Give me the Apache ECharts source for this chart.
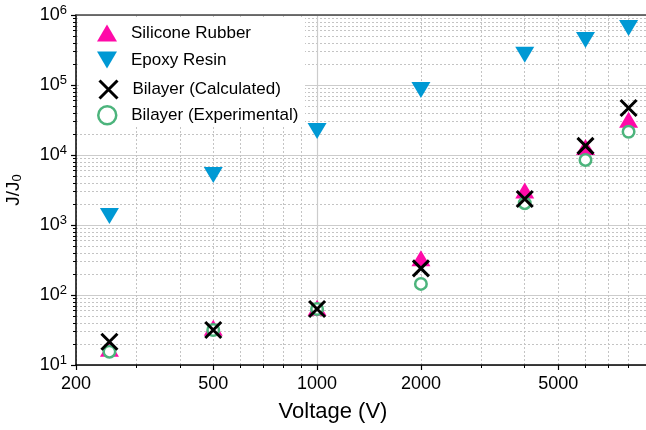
<!DOCTYPE html>
<html>
<head>
<meta charset="utf-8">
<script src="https://cdn.jsdelivr.net/npm/echarts@6/dist/echarts.min.js"></script>
<style>html,body{margin:0;padding:0;background:#fff}#c{width:646px;height:430px}</style>
</head>
<body>
<div id="c"></div>
<script>
// ---- data ----
const voltage = [250, 500, 1000, 2000, 4000, 6000, 8000];
const siliconeRubber = [17, 34, 66, 335, 3100, 13000, 32000];
const epoxyResin = [1350, 5200, 22000, 85000, 270000, 440000, 650000];
const bilayerCalculated = [21.5, 31.6, 63, 240, 2350, 13500, 47000];
const bilayerExperimental = [15.5, 31.6, 63, 144, 2050, 8500, 21500];
const xTickLabels = [200, 500, 1000, 2000, 5000];
const xMinorTicks = [300, 400, 600, 700, 800, 900, 3000, 4000, 6000, 7000, 8000, 9000];
const xSolidGrid = [1000];
const yMajorTicks = [10, 100, 1000, 10000, 100000, 1000000];
const yMinorMultipliers = [2, 3, 4, 5, 6, 7, 8, 9];
const seriesNames = ['Silicone Rubber', 'Epoxy Resin', 'Bilayer (Calculated)', 'Bilayer (Experimental)'];

const FONT = 'Liberation Sans, Arial, sans-serif';
const lg = Math.log10;
const pts = (ys) => voltage.map((x, i) => [x, ys[i]]);
const yMinor = [];
yMajorTicks.slice(0, -1).forEach(d => yMinorMultipliers.forEach(m => yMinor.push(lg(d * m))));

const xMin = 200, xMax = 10000, yMin = 10, yMax = 1000000;
const dotted = { show: true, lineStyle: { color: '#c4c4c4', width: 1, type: [2, 2] } };
const solid = { show: true, lineStyle: { color: '#cccccc', width: 1.2, type: 'solid' } };

const PINK = '#ff0aa8', BLUE = '#0099d4', GREEN = '#4cb47c';
const legendIcons = [
  { icon: 'path://M10,0L20,17L0,17Z', itemStyle: { color: PINK } },
  { icon: 'path://M0,0L20,0L10,17Z', itemStyle: { color: BLUE } },
  { icon: 'path://M0,0L10,10M0,10L10,0', itemStyle: { color: 'none', borderColor: '#000', borderWidth: 3 } },
  { icon: 'circle', itemStyle: { color: '#fff', borderColor: GREEN, borderWidth: 2.5 } }
];
const legendRowTop = [24, 51, 78, 105];

const legends = seriesNames.map((n, i) => ({
  orient: 'vertical', left: 97, top: legendRowTop[i], padding: 0,
  itemWidth: 20, itemHeight: 18, symbolKeepAspect: true,
  textStyle: { fontFamily: FONT, fontSize: 17, color: '#000', lineHeight: 18, padding: [0, 0, 0, 9] },
  data: [Object.assign({ name: n }, legendIcons[i])]
}));

const chart = echarts.init(document.getElementById('c'), null, { renderer: 'canvas' });
chart.setOption({
  animation: false,
  backgroundColor: '#fff',
  grid: { left: 76, top: 15, bottom: 65, right: -16, containLabel: false, outerBoundsMode: 'none' },
  graphic: [{
    type: 'rect', left: 79, top: 17, z: 3, silent: true,
    shape: { width: 226, height: 108 }, style: { fill: '#fff' }
  }],
  xAxis: [
    { type: 'log', min: xMin, max: xMax, show: false, position: 'bottom' },
    {
      type: 'value', min: lg(xMin), max: lg(xMax), position: 'bottom',
      axisLine: { show: true, onZero: false, lineStyle: { color: '#000', width: 1.5 } },
      axisTick: { show: true, length: 5, customValues: xTickLabels.map(lg), lineStyle: { color: '#000', width: 1.2 } },
      axisLabel: {
        show: true, customValues: xTickLabels.map(lg), margin: 10,
        formatter: v => String(Math.round(Math.pow(10, v))),
        fontFamily: FONT, fontSize: 18, color: '#000'
      },
      splitLine: dotted,
      name: 'Voltage (V)', nameLocation: 'middle', nameGap: 36,
      nameTextStyle: { fontFamily: FONT, fontSize: 22, color: '#000', padding: [0, 72, 0, 0] }
    },
    {
      type: 'value', min: lg(xMin), max: lg(xMax), position: 'bottom',
      axisLine: { show: false, onZero: false },
      axisTick: { show: true, length: 3, customValues: xMinorTicks.map(lg), lineStyle: { color: '#000', width: 1 } },
      axisLabel: { show: false },
      splitLine: dotted
    },
    {
      type: 'value', min: lg(xMin), max: lg(xMax), position: 'top',
      axisLine: { show: true, onZero: false, lineStyle: { color: '#444', width: 1.5 } },
      axisTick: { show: false, customValues: xSolidGrid.map(lg) },
      axisLabel: { show: false },
      splitLine: solid
    }
  ],
  yAxis: [
    {
      type: 'log', min: yMin, max: yMax, interval: 1, position: 'left',
      axisLine: { show: true, onZero: false, lineStyle: { color: '#000', width: 1.5 } },
      axisTick: { show: true, length: 5, lineStyle: { color: '#000', width: 1.2 } },
      axisLabel: {
        margin: 9, fontFamily: FONT, color: '#000',
        formatter: v => '{b|10}{s|' + Math.round(lg(v)) + '}',
        rich: {
          b: { fontFamily: FONT, fontSize: 18, color: '#000' },
          s: { fontFamily: FONT, fontSize: 13, color: '#000', padding: [0, 0, 10, 0] }
        }
      },
      splitLine: solid,
      name: '{a|J/J}{s|0}', nameLocation: 'middle', nameGap: 52,
      nameTextStyle: {
        rich: {
          a: { fontFamily: FONT, fontSize: 19, color: '#000' },
          s: { fontFamily: FONT, fontSize: 13, color: '#000', padding: [8, 0, 0, 0] }
        }
      }
    },
    {
      type: 'value', min: lg(yMin), max: lg(yMax), position: 'left',
      axisLine: { show: false, onZero: false },
      axisTick: { show: true, length: 3, customValues: yMinor, lineStyle: { color: '#000', width: 1 } },
      axisLabel: { show: false },
      splitLine: dotted
    }
  ],
  legend: legends,
  series: [
    {
      name: seriesNames[0], type: 'scatter', xAxisIndex: 0, yAxisIndex: 0,
      symbol: 'triangle', symbolSize: [19, 16],
      itemStyle: { color: PINK, opacity: 1 },
      data: pts(siliconeRubber)
    },
    {
      name: seriesNames[1], type: 'scatter', xAxisIndex: 0, yAxisIndex: 0,
      symbol: 'triangle', symbolRotate: 180, symbolSize: [19, 16],
      itemStyle: { color: BLUE, opacity: 1 },
      data: pts(epoxyResin)
    },
    {
      name: seriesNames[3], type: 'scatter', xAxisIndex: 0, yAxisIndex: 0,
      symbol: 'circle', symbolSize: 11.5,
      itemStyle: { color: '#fff', borderColor: GREEN, borderWidth: 2.5, opacity: 1 },
      data: pts(bilayerExperimental)
    },
    {
      name: seriesNames[2], type: 'scatter', xAxisIndex: 0, yAxisIndex: 0,
      symbol: 'path://M0,0L10,10M0,10L10,0', symbolSize: 16,
      itemStyle: { color: 'none', borderColor: '#000', borderWidth: 3, opacity: 1 },
      data: pts(bilayerCalculated)
    }
  ]
});
</script>
</body>
</html>
